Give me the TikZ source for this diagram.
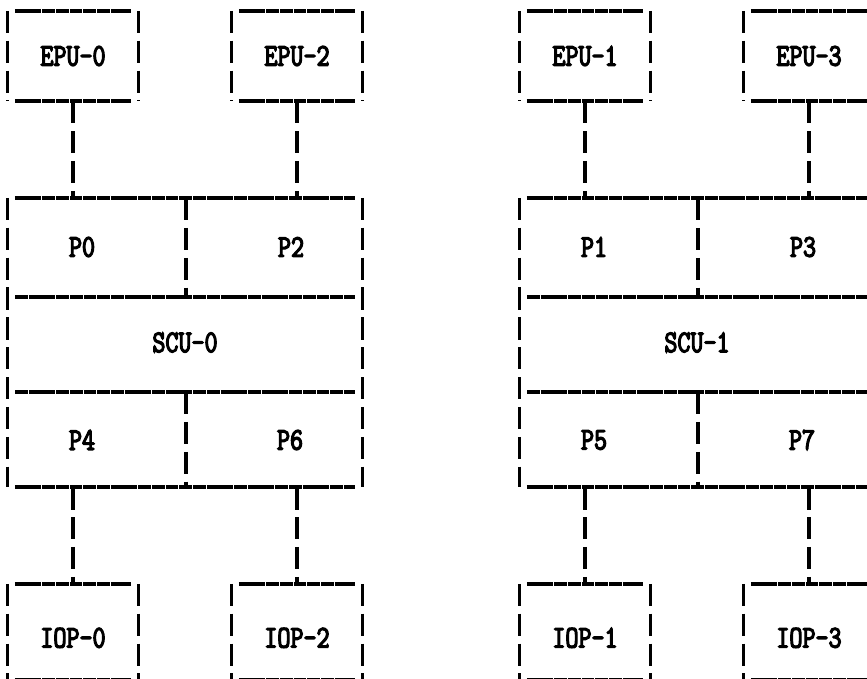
\documentclass[tikz,border=0pt]{standalone}
\usepackage{fontspec}
\newfontfamily\typewriterfont[FakeStretch=0.8,FakeBold=4]{Latin Modern Mono}
\usetikzlibrary{positioning}

% frame of a box, typed with underscores and bars
\newcommand\typebox[1]{%
\draw[hrule] (#1.north west) -- (#1.north east);
\draw[hrule] (#1.south west) -- (#1.south east);
\draw[vrule] (#1.north west) -- (#1.south west);
\draw[vrule] (#1.north east) -- (#1.south east);}

\begin{document}
\begin{tikzpicture}[x=0.03cm,y=-0.03cm,
every node/.style={font=\typewriterfont\bfseries\fontsize{27}{27}\selectfont,inner sep=0pt},
unit/.style={minimum width=3.9cm,minimum height=2.7cm},
iop/.style={unit,minimum height=2.88cm,text height=26.5pt,text depth=0pt},
scu/.style={minimum width=10.62cm,minimum height=8.67cm},
hrule/.style={line width=3pt,dash pattern=on 11pt off 0.7pt,shorten <=2.1mm,shorten >=2.1mm},
vrule/.style={line width=2.8pt,dash pattern=on 19pt off 6.5pt}]
\useasboundingbox (0,0) rectangle (867,679);
\clip (0,0) rectangle (867,679);

% left half
\node[unit] (epu0) at (73,56) {EPU-0};
\node[unit] (epu2) at (297,56) {EPU-2};
\node[scu] (scu0) at (185,342.5) {SCU-0};
\node (p0) at (82,247) {P0}; \node (p2) at (291,247) {P2};
\node (p4) at (82,440) {P4}; \node (p6) at (290,440) {P6};
\node[iop] (iop0) at (73,632) {IOP-0};
\node[iop] (iop2) at (297,632) {IOP-2};
\typebox{epu0} \typebox{epu2} \typebox{scu0} \typebox{iop0} \typebox{iop2}
\draw[hrule] (8,297) -- (362,297); \draw[hrule] (8,392) -- (362,392);
\draw[vrule] (186,198) -- (186,297); \draw[vrule] (186,392) -- (186,487);
\draw[vrule] (epu0) -- (epu0 |- scu0.north); \draw[vrule] (epu2) -- (epu2 |- scu0.north);
\draw[vrule] (iop0 |- scu0.south) -- (iop0); \draw[vrule] (iop2 |- scu0.south) -- (iop2);

% right half
\node[unit] (epu1) at (585,56) {EPU-1};
\node[unit] (epu3) at (809,56) {EPU-3};
\node[scu] (scu1) at (697,342.5) {SCU-1};
\node (p1) at (594,247) {P1}; \node (p3) at (803,247) {P3};
\node (p5) at (594,440) {P5}; \node (p7) at (802,440) {P7};
\node[iop] (iop1) at (585,632) {IOP-1};
\node[iop] (iop3) at (809,632) {IOP-3};
\typebox{epu1} \typebox{epu3} \typebox{scu1} \typebox{iop1} \typebox{iop3}
\draw[hrule] (520,297) -- (874,297); \draw[hrule] (520,392) -- (874,392);
\draw[vrule] (698,198) -- (698,297); \draw[vrule] (698,392) -- (698,487);
\draw[vrule] (epu1) -- (epu1 |- scu1.north); \draw[vrule] (epu3) -- (epu3 |- scu1.north);
\draw[vrule] (iop1 |- scu1.south) -- (iop1); \draw[vrule] (iop3 |- scu1.south) -- (iop3);
\end{tikzpicture}
\end{document}
